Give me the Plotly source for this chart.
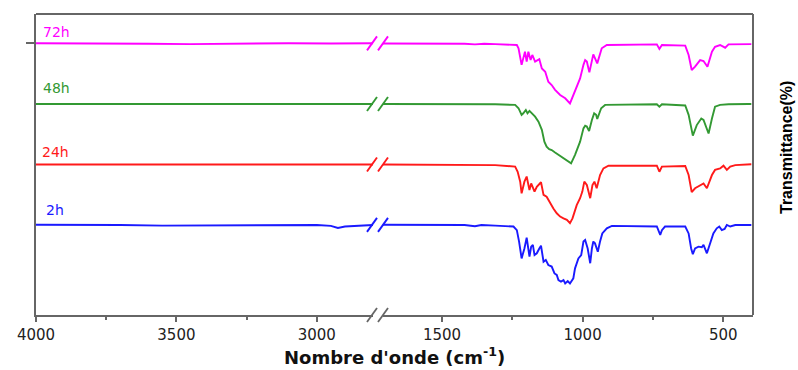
import plotly.graph_objects as go

# ---------------- data (wavenumber cm-1, transmittance with vertical offsets) ----------------
wn_72h = [4000, 3800, 3600, 3450, 3300, 3100, 2950, 2800,
          1710, 1550, 1420, 1383, 1350, 1311, 1246, 1234, 1228, 1217, 1205, 1199, 1193, 1185,
          1179, 1169, 1154, 1145, 1133, 1122, 1110, 1098, 1080, 1062, 1045, 1027, 1009, 997,
          991, 985, 976, 962, 948, 932, 914, 736, 727, 718, 635, 623, 612, 600, 582, 570,
          556, 540, 529, 511, 493, 481, 410, 400]
t_72h = [90.3, 90.3, 90.1, 90.0, 90.2, 90.3, 90.2, 90.3,
         90.2, 90.2, 90.1, 89.9, 90.1, 90.0, 89.8, 89.7, 88.6, 83.1, 87.5, 84.2, 87.5, 84.7,
         86.4, 84.2, 85.0, 81.9, 80.8, 77.5, 76.4, 74.8, 73.1, 72.0, 70.3, 74.2, 78.6, 83.1,
         84.7, 84.2, 80.6, 86.6, 83.6, 88.6, 89.7, 89.9, 88.4, 89.7, 89.5, 86.4, 81.4, 82.5, 84.7, 84.4,
         82.5, 87.5, 89.1, 89.7, 88.8, 89.9, 90.0, 90.0]

wn_48h = [4000, 3800, 3600, 3450, 3300, 3100, 2950, 2800,
          1710, 1550, 1420, 1383, 1311, 1240, 1228, 1217, 1211, 1202, 1196, 1189, 1181, 1169,
          1157, 1145, 1136, 1128, 1119, 1110, 1098, 1080, 1062, 1041, 1027, 1009, 997, 991,
          985, 977, 967, 959, 952, 948, 934, 920, 736, 727, 718, 635, 623, 614, 608, 594,
          578, 570, 552, 540, 529, 511, 493, 481, 410, 400]
t_48h = [70.1, 70.1, 70.0, 69.9, 70.0, 70.1, 70.0, 70.1,
         70.1, 70.1, 70.0, 69.9, 70.0, 69.8, 68.7, 66.5, 67.0, 68.1, 67.0, 67.8, 67.0, 65.9,
         64.2, 61.5, 57.6, 55.9, 55.1, 54.8, 54.0, 52.9, 51.8, 50.4, 53.2, 57.6, 62.0, 62.9,
         62.6, 61.1, 64.8, 67.0, 66.5, 65.1, 68.7, 69.8, 70.0, 69.2, 70.0, 69.6, 66.5, 62.0, 59.6, 63.1,
         65.3, 64.8, 60.3, 65.3, 69.2, 69.8, 69.8, 70.0, 70.1, 70.1]

wn_24h = [4000, 3800, 3600, 3400, 3200, 3000, 2800,
          1710, 1550, 1420, 1383, 1311, 1240, 1231, 1222, 1217, 1207, 1199, 1189, 1183, 1171,
          1163, 1148, 1139, 1128, 1116, 1104, 1092, 1080, 1068, 1056, 1045, 1036, 1021, 1009,
          1001, 994, 985, 973, 965, 958, 950, 938, 926, 908, 736, 727, 718, 635, 623, 612,
          600, 582, 570, 558, 540, 529, 511, 499, 487, 475, 457, 400]
t_24h = [50.0, 50.0, 49.9, 49.9, 50.0, 50.0, 50.0,
         50.0, 50.0, 49.9, 49.8, 49.8, 49.3, 47.6, 44.3, 40.4, 44.3, 46.0, 41.5, 43.7, 41.0,
         42.6, 44.1, 39.9, 39.3, 37.1, 35.4, 33.8, 32.7, 32.1, 31.6, 30.5, 32.1, 36.5, 38.8,
         41.0, 44.3, 43.2, 38.8, 43.2, 44.3, 42.1, 46.5, 48.7, 49.6, 49.6, 47.6, 49.3, 49.5, 46.5, 40.8,
         42.1, 43.2, 43.7, 42.1, 46.5, 48.2, 48.7, 49.6, 48.2, 49.3, 49.8, 50.1]

wn_2h = [4000, 3850, 3700, 3550, 3400, 3250, 3100, 3000, 2950, 2925, 2900, 2860, 2800,
         1710, 1550, 1420, 1383, 1360, 1311, 1246, 1234, 1226, 1217, 1207, 1199, 1193, 1189,
         1183, 1177, 1171, 1163, 1154, 1148, 1139, 1131, 1122, 1110, 1100, 1092, 1086, 1077,
         1068, 1062, 1053, 1045, 1033, 1027, 1015, 1005, 997, 991, 982, 973, 967, 962, 956,
         946, 938, 930, 914, 896, 736, 730, 724, 718, 707, 635, 623, 614, 608, 600, 588, 576,
         570, 558, 546, 535, 523, 514, 505, 495, 487, 475, 457, 400]
t_2h = [30.0, 30.0, 29.9, 29.7, 29.8, 29.9, 30.0, 29.9, 29.6, 28.9, 29.4, 29.6, 29.9,
        30.0, 30.0, 29.9, 29.5, 29.9, 29.7, 29.4, 28.2, 24.4, 18.8, 22.1, 25.7, 22.1, 19.4,
        22.7, 23.3, 19.9, 20.5, 22.1, 23.0, 17.7, 18.3, 16.6, 16.1, 13.8, 13.3, 11.6, 11.1,
        11.6, 10.5, 11.3, 10.5, 12.2, 15.5, 18.8, 19.9, 24.4, 24.9, 22.1, 17.2, 22.1, 24.4, 23.8,
        21.0, 24.4, 27.1, 28.8, 29.6, 29.4, 27.9, 26.6, 28.2, 29.4, 29.4, 27.1, 22.1, 20.2, 22.1, 22.7, 22.5,
        23.3, 20.5, 24.4, 27.1, 28.8, 29.4, 28.2, 28.6, 29.9, 29.4, 29.9, 29.9]

series_names = ["72h", "48h", "24h", "2h"]
series_wn = [wn_72h, wn_48h, wn_24h, wn_2h]
series_t = [t_72h, t_48h, t_24h, t_2h]
series_colors = ["#FF00FF", "#339933", "#FF1A1A", "#1A1AFF"]
label_y = [94.0, 75.4, 54.2, 34.9]
label_x = [3982, 3982, 3985, 3972]

left_ticks = [4000, 3500, 3000]
left_minor = [3750, 3250]
right_ticks = [1500, 1000, 500]
right_minor = [1250, 750]
left_range = [4000, 2800]
right_range = [1710, 394]

# ---------------- geometry ----------------
W, H = 798, 370
L, R, T, B = 36, 45, 14, 55
pw = W - L - R
ph = H - T - B
def px2paper(px):
    return (px - L) / pw
dom_left = [0, px2paper(373)]
dom_right = [px2paper(383), 1]
axis_col = "#666666"
lw = 1.9

fig = go.Figure()
for name, wn, tv, col in zip(series_names, series_wn, series_t, series_colors):
    lx = [w for w in wn if w >= 2800]
    ly = [t for w, t in zip(wn, tv) if w >= 2800]
    rx = [w for w in wn if w <= 1710]
    ry = [t for w, t in zip(wn, tv) if w <= 1710]
    fig.add_trace(go.Scatter(x=lx, y=ly, mode="lines", line=dict(color=col, width=lw),
                             xaxis="x", yaxis="y", showlegend=False, name=name))
    fig.add_trace(go.Scatter(x=rx, y=ry, mode="lines", line=dict(color=col, width=lw),
                             xaxis="x2", yaxis="y", showlegend=False, name=name))

shapes = []
hh = 7 / (ph / 100)  # half height of break slash in y units
for wn, tv, col in zip(series_wn, series_t, series_colors):
    yb = (tv[wn.index(2800)] + tv[wn.index(1710)]) / 2
    for a, b in [(367, 377), (378, 388)]:
        shapes.append(dict(type="line", xref="paper", yref="y", x0=px2paper(a), x1=px2paper(b),
                           y0=yb - hh, y1=yb + hh, line=dict(color=col, width=lw)))
for a, b in [(367, 377), (378, 388)]:
    shapes.append(dict(type="line", xref="paper", yref="paper", x0=px2paper(a), x1=px2paper(b),
                       y0=-7 / ph, y1=7 / ph, line=dict(color=axis_col, width=1.8)))
shapes.append(dict(type="line", xref="paper", yref="paper", x0=0, x1=1, y0=1, y1=1,
                   line=dict(color=axis_col, width=2)))
shapes.append(dict(type="line", xref="paper", yref="paper", x0=1, x1=1, y0=0, y1=1,
                   line=dict(color=axis_col, width=2)))

annotations = []
for name, col, lxv, lyv in zip(series_names, series_colors, label_x, label_y):
    annotations.append(dict(text=name, x=lxv, y=lyv, xref="x", yref="y", xanchor="left",
                            yanchor="middle", showarrow=False,
                            font=dict(family="DejaVu Sans", size=14, color=col)))
annotations.append(dict(text="Nombre d'onde (cm<sup>-1</sup>)", xref="paper", yref="paper",
                        x=px2paper(394), y=(315 - 356) / ph, xanchor="center", yanchor="middle",
                        showarrow=False,
                        font=dict(family="DejaVu Sans", size=18, color="#111111", weight="bold")))
annotations.append(dict(text="Transmittance(%)", xref="paper", yref="paper",
                        x=px2paper(786), y=(315 - 148) / ph, xanchor="center", yanchor="middle",
                        textangle=-90, showarrow=False,
                        font=dict(family="Liberation Sans", size=16, color="#000000", weight="bold")))

xcommon = dict(showline=True, linecolor=axis_col, linewidth=2, ticks="outside", ticklen=5,
               tickwidth=1.5, tickcolor=axis_col, showgrid=False, zeroline=False,
               tickfont=dict(family="DejaVu Sans", size=15, color="#222222"), anchor="y")
fig.update_layout(
    width=W, height=H,
    margin=dict(l=L, r=R, t=T, b=B),
    paper_bgcolor="white", plot_bgcolor="white",
    xaxis=dict(domain=dom_left, range=left_range, tickvals=left_ticks,
               minor=dict(tickvals=left_minor, ticks="outside", ticklen=3, tickcolor=axis_col),
               **xcommon),
    xaxis2=dict(domain=dom_right, range=right_range, tickvals=right_ticks,
                minor=dict(tickvals=right_minor, ticks="outside", ticklen=3, tickcolor=axis_col),
                **xcommon),
    yaxis=dict(range=[0, 100], showline=True, linecolor=axis_col, linewidth=2,
               ticks="outside", tickvals=[90.3], ticklen=8, tickcolor=axis_col, tickwidth=1.5,
               showticklabels=False, showgrid=False, zeroline=False, anchor="x"),
    shapes=shapes,
    annotations=annotations,
)

fig.write_html("out.html")
